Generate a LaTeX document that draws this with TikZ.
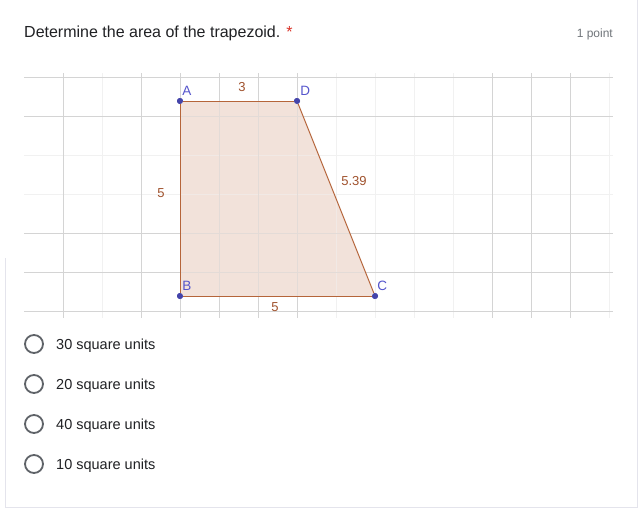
\documentclass[tikz,border=0pt]{standalone}
\usepackage{fontspec}
\setmainfont{Liberation Sans}
\usetikzlibrary{positioning}

\definecolor{ink}{HTML}{202124}
\definecolor{softgray}{HTML}{70757A}
\definecolor{radiogray}{HTML}{5F6368}
\definecolor{starred}{HTML}{D93025}
\definecolor{gridmajor}{HTML}{D4D4D4}
\definecolor{gridminor}{HTML}{F1F1F1}
\definecolor{edgebrown}{HTML}{B5653A}
\definecolor{trapfill}{HTML}{F2E2DA}
\definecolor{ptblue}{HTML}{4444AA}
\definecolor{lblblue}{HTML}{5555CC}
\definecolor{lenbrown}{HTML}{A0522D}
\definecolor{cardedge}{HTML}{E4E4EC}

\begin{document}
\begin{tikzpicture}[x=1pt,y=-1pt]
          \tikzset{seg/.style = {draw=edgebrown, line width=1pt}}
          \tikzset{pt/.style = {circle, fill=ptblue, inner sep=0pt, minimum size=6pt}}
          \tikzset{ptlabel/.style = {text=lblblue, inner sep=0pt, font=\fontsize{13.5}{13.5}\selectfont}}
          \tikzset{len/.style = {text=lenbrown, inner sep=0pt, font=\fontsize{13}{13}\selectfont}}
          \tikzset{radio/.style = {circle, draw=radiogray, line width=1.8pt, minimum size=18pt, inner sep=0pt}}
          \tikzset{answer/.style = {text=ink, inner sep=0pt, anchor=base west, font=\fontsize{14.5}{15}\selectfont}}

          \useasboundingbox (0,0) rectangle (642,509);
          \fill[white] (0,0) rectangle (642,509);
          \draw[cardedge, line width=1pt] (5,258) -- (5,507.5) -- (637.5,507.5) -- (637.5,0);

          % question header
          \node[text=ink, inner sep=0pt, anchor=base west, font=\fontsize{16}{16}\selectfont] (question) at (24,37)
            {Determine the area of the trapezoid. \textcolor{starred}{*}};
          \node[text=softgray, inner sep=0pt, anchor=base east, font=\fontsize{12}{12}\selectfont] (points) at (613,37) {1 point};

          % graph paper and trapezoid
          \begin{scope}[shift={(180,296)}, x=39pt, y=39pt]
            \node[pt] (B) at (0,0) {};
            \node[pt] (A) at (0,5) {};
            \node[pt] (D) at (3,5) {};
            \node[pt] (C) at (5,0) {};
            \fill[trapfill] (B.center) -- (A.center) -- (D.center) -- (C.center) -- cycle;

            \foreach \gx in {-2,4,5,6,7,11} \draw[gridminor, line width=1pt] (\gx,-0.56) -- (\gx,5.72);
            \foreach \gy in {2.59,3.59} \draw[gridminor, line width=1pt] (-4,\gy) -- (11.1,\gy);
            \foreach \gx in {-3,-1,0,1,2,3,8,9,10} \draw[gridmajor, line width=1pt] (\gx,-0.56) -- (\gx,5.72);
            \foreach \gy in {-0.41,0.59,1.59,4.59,5.59} \draw[gridmajor, line width=1pt] (-4,\gy) -- (11.1,\gy);

            \fill[trapfill, opacity=0.5] (B.center) -- (A.center) -- (D.center) -- (C.center) -- cycle;
            \draw[seg] (A) -- (D);
            \draw[seg] (D) -- (C);
            \draw[seg] (C) -- (B);
            \draw[seg] (B) -- (A);
            \node[pt] at (A) {};
            \node[pt] at (B) {};
            \node[pt] at (C) {};
            \node[pt] at (D) {};
          \end{scope}

          \node[ptlabel, above right=3pt and 0pt of A] (labA) {A};
          \node[ptlabel, above right=3pt and 0pt of B] (labB) {B};
          \node[ptlabel, above right=3pt and 0pt of C] (labC) {C};
          \node[ptlabel, above right=3pt and 1pt of D] (labD) {D};

          \node[len] (lenAD) at (242,87) {3};
          \node[len] (lenAB) at (161,193) {5};
          \node[len] (lenDC) at (354,181) {5.39};
          \node[len] (lenBC) at (275,307) {5};

          % answer choices
          \foreach \val [count=\i] in {30,20,40,10} {
            \node[radio] (opt\i) at (34,304+40*\i) {};
            \node[answer] (ans\i) at (56,309+40*\i) {\val\ square units};
          }
        \end{tikzpicture}
\end{document}
